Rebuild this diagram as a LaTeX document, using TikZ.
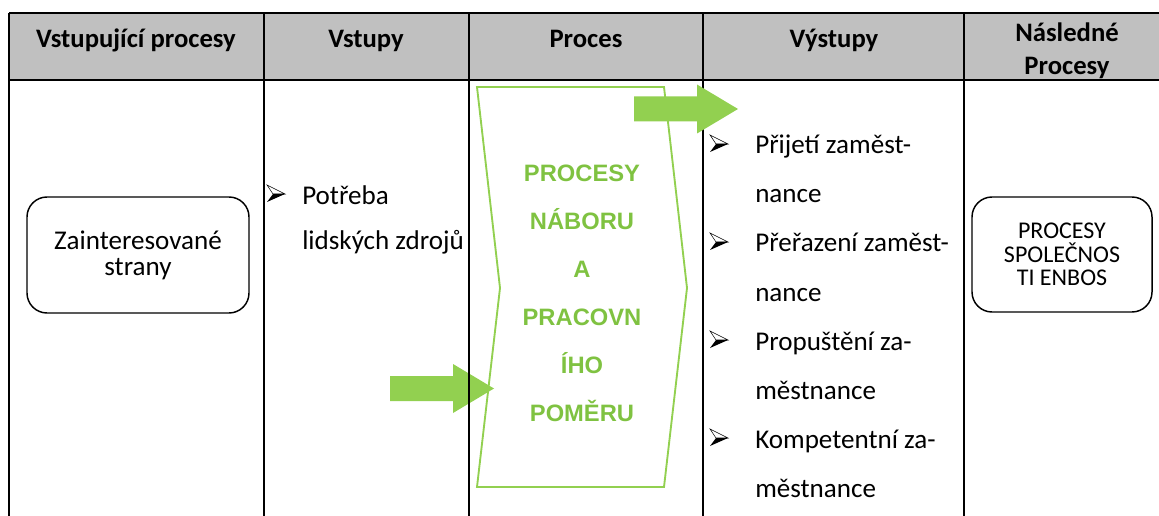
\documentclass[tikz,border=0pt]{standalone}
\usepackage{fontspec}
\setmainfont{Carlito}
\newfontfamily\arialfont{Liberation Sans}
\usetikzlibrary{positioning}
\definecolor{hdrgray}{RGB}{192,192,192}
\definecolor{lgreen}{RGB}{146,208,80}
\definecolor{tgreen}{RGB}{127,194,65}
\tikzset{
  bul/.pic={
    \draw[line width=0.4pt,fill=white] (0,0) -- (18,9) -- (6,9) -- cycle;
    \fill (6,9) -- (18,9) -- (0,17) -- cycle;
  },
  garrow/.pic={
    \fill[lgreen] (0,-12.5) -- (63,-12.5) -- (63,-24.5) -- (104,0) -- (63,24.5) -- (63,12.5) -- (0,12.5) -- cycle;
  }
}
\begin{document}
\begin{tikzpicture}[x=0.75pt,y=-0.75pt,
  hdr/.style={font=\fontsize{20}{25}\selectfont\bfseries,align=center,inner sep=0,anchor=base},
  txt/.style={font=\fontsize{20.3}{24}\selectfont,anchor=base west,inner sep=0},
  rbox/.style={draw,line width=1.1pt,rounded corners=15pt,align=center},
  grid/.style={line width=1.6pt}]
\useasboundingbox (0,0) rectangle (1159,516);
\fill[hdrgray] (9,13) rectangle (1159,80);
% process shape and incoming arrow
\draw[lgreen,line width=1.4pt] (477,87) -- (664,87) -- (687,288) -- (664,487) -- (477,487) -- (500,288) -- cycle;
\pic at (390,388.5) {garrow};
% table lines
\draw[grid] (9,13) -- (1159,13);
\draw[grid] (9,80) -- (1159,80);
\foreach \x in {9,264,469,703,964} \draw[grid] (\x,13) -- (\x,516);
\pic at (634,109) {garrow};
% header
\node[hdr] (hIn) at (136,48) {Vstupující procesy};
\node[hdr] (hVst) at (366,48) {Vstupy};
\node[hdr] (hProc) at (586,48) {Proces};
\node[hdr] (hVyst) at (834,48) {Výstupy};
\node[hdr] (hNasl) at (1067,75) {Následné\\Procesy};
% boxes
\node[rbox,minimum width=166.5pt,minimum height=87pt,font=\fontsize{20.3}{19.5}\selectfont] (bStr) at (138,255) {Zainteresované\\strany};
\node[rbox,minimum width=135pt,minimum height=86.25pt,font=\fontsize{18}{17.5}\selectfont] (bEnb) at (1062,254.5) {PROCESY\\SPOLEČNOS\\TI ENBOS};
% inputs
\pic at (267,185) {bul};
\node[txt] (vPot) at (302,205) {Potřeba};
\node[txt] (vLid) at (302,250) {lidských zdrojů};
% process
\node[font=\fontsize{17.8}{36}\selectfont\arialfont\bfseries,text=tgreen,align=center,inner sep=0] (pTxt) at (582,293) {PROCESY\\NÁBORU\\A\\PRACOVN\\ÍHO\\POMĚRU};
% outputs
\foreach \t [count=\i from 0] in {Přijetí zaměst-,nance,Přeřazení zaměst-,nance,Propuštění za-,městnance,Kompetentní za-,městnance}
  \node[txt] (out\i) at (755,{154+49*\i}) {\t};
\foreach \i in {0,2,4,6} \pic at (710,{135+49*\i}) {bul};
\end{tikzpicture}
\end{document}
